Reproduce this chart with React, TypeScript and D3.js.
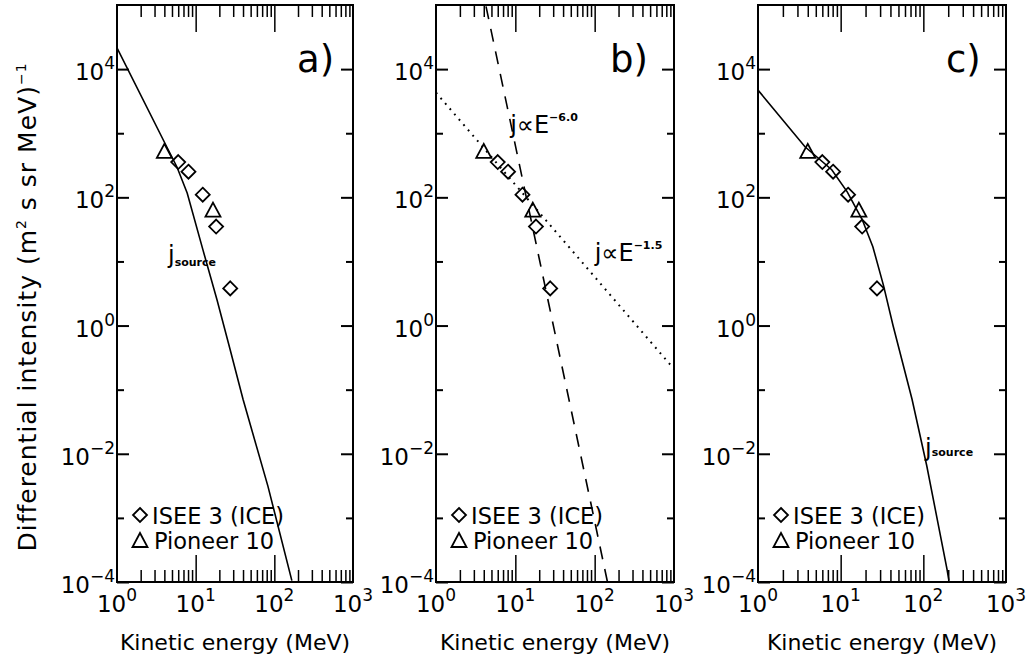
import React, { useEffect, useRef } from "react";
import * as d3 from "d3";

// ---------- data ----------
const isee3E = [6.0, 8.1, 12.3, 18.2, 27.5];
const isee3J = [355, 251, 110, 35, 3.8];
const pioneerE = [4.0, 16.6];
const pioneerJ = [513, 62];

// model curve "j_source" panel a
const sourceAE = [1, 4.3, 5.8, 7.8, 12.4, 18.7, 27.3, 40, 83, 167];
const sourceAJ = [21400, 610, 295, 117, 15, 2.5, 0.43, 0.071, 0.0031, 1.05e-4];
// model curve "j_source" panel c
const sourceCE = [1, 3.7, 7.8, 12, 18.2, 24.5, 33, 43, 73, 110, 193, 204];
const sourceCJ = [4700, 615, 270, 122, 45, 17, 4.2, 1.0, 0.071, 0.0065, 1.6e-4, 1.05e-4];
// power laws, panel b
const steepE = [4.27, 145];
const steepJ = [9.5e4, 1.0e-4];
const flatE = [1, 1000];
const flatJ = [4300, 0.21];

const xTickDecades = [1, 10, 100, 1000];
const xTickExps = ["0", "1", "2", "3"];
const yLabelExps = [4, 2, 0, -2, -4];
const yDecades = [-4, -3, -2, -1, 0, 1, 2, 3, 4];

const FONT = "'DejaVu Sans', sans-serif";
const TOP = 5;
const BOTTOM = 582;

const panels = [
  { id: "a", x0: 117, x1: 353, label: "a)", labelX: 297 },
  { id: "b", x0: 436, x1: 674, label: "b)", labelX: 610 },
  { id: "c", x0: 758, x1: 1006, label: "c)", labelX: 946 },
];

const zip = (a: number[], b: number[]) => a.map((v, i) => [v, b[i]] as [number, number]);

const scalesFor = (p: (typeof panels)[number]) => ({
  x: d3.scaleLog().domain([1, 1000]).range([p.x0, p.x1]),
  y: d3.scaleLog().domain([1e-4, 1e5]).range([BOTTOM, TOP]),
});

function Diamond({ x, y }: { x: number; y: number }) {
  return <path d={`M${x},${y - 7}L${x + 7},${y}L${x},${y + 7}L${x - 7},${y}Z`} fill="none" stroke="#000" strokeWidth={1.8} />;
}
function Triangle({ x, y }: { x: number; y: number }) {
  return <path d={`M${x},${y - 8}L${x + 7.5},${y + 6}L${x - 7.5},${y + 6}Z`} fill="none" stroke="#000" strokeWidth={1.8} />;
}

function Panel({ p }: { p: (typeof panels)[number] }) {
  const { x, y } = scalesFor(p);
  const curveGen = d3
    .line<[number, number]>()
    .x((d) => x(d[0]))
    .y((d) => y(d[1]));
  const cx = (p.x0 + p.x1) / 2;
  return (
    <g>
      <rect x={p.x0} y={TOP} width={p.x1 - p.x0} height={BOTTOM - TOP} fill="none" stroke="#000" strokeWidth={2} />
      {yLabelExps.map((e) => (
        <text key={"ylab" + e} x={p.x0 - 2} y={y(Math.pow(10, e)) + 11} textAnchor="end" fontSize={23} fontFamily={FONT}>
          10
          <tspan dy={-11} fontSize={17}>
            {e < 0 ? `\u2212${-e}` : `${e}`}
          </tspan>
        </text>
      ))}
      {xTickDecades.map((v, i) => (
        <text key={"xlab" + v} x={x(v)} y={612} textAnchor="middle" fontSize={23} fontFamily={FONT}>
          10
          <tspan dy={-11} fontSize={17}>
            {xTickExps[i]}
          </tspan>
        </text>
      ))}
      <text x={cx} y={650} textAnchor="middle" fontSize={22} fontFamily={FONT}>
        Kinetic energy (MeV)
      </text>
      <text x={p.labelX} y={72} fontSize={37} fontFamily={FONT}>
        {p.label}
      </text>
      {p.id === "a" && <path d={curveGen(zip(sourceAE, sourceAJ)) || ""} fill="none" stroke="#000" strokeWidth={1.6} />}
      {p.id === "c" && <path d={curveGen(zip(sourceCE, sourceCJ)) || ""} fill="none" stroke="#000" strokeWidth={1.6} />}
      {p.id === "b" && (
        <>
          <path d={curveGen(zip(steepE, steepJ)) || ""} fill="none" stroke="#000" strokeWidth={1.6} strokeDasharray="13 10" />
          <path d={curveGen(zip(flatE, flatJ)) || ""} fill="none" stroke="#000" strokeWidth={2} strokeDasharray="1.8 5.2" />
        </>
      )}
      {isee3E.map((e, i) => (
        <Diamond key={"d" + i} x={x(e)} y={y(isee3J[i])} />
      ))}
      {pioneerE.map((e, i) => (
        <Triangle key={"t" + i} x={x(e)} y={y(pioneerJ[i])} />
      ))}
      {p.id === "a" && (
        <text x={x(4.45)} y={y(9.6)} fontSize={24} fontFamily={FONT}>
          j
          <tspan fontSize={11} fontWeight="bold" dy={3}>
            source
          </tspan>
        </text>
      )}
      {p.id === "c" && (
        <text x={x(105)} y={y(0.0094)} fontSize={24} fontFamily={FONT}>
          j
          <tspan fontSize={11} fontWeight="bold">
            source
          </tspan>
        </text>
      )}
      {p.id === "b" && (
        <>
          <text x={x(8.6)} y={y(1020)} fontSize={24} fontFamily={FONT}>
            j∝E
            <tspan fontSize={11} fontWeight="bold" dy={-12}>
              −6.0
            </tspan>
          </text>
          <text x={x(100)} y={y(10)} fontSize={24} fontFamily={FONT}>
            j∝E
            <tspan fontSize={11} fontWeight="bold" dy={-12}>
              −1.5
            </tspan>
          </text>
        </>
      )}
      <Diamond x={p.x0 + 23} y={515} />
      <text x={p.x0 + 35} y={524} fontSize={22.5} fontFamily={FONT}>
        ISEE 3 (ICE)
      </text>
      <Triangle x={p.x0 + 23} y={541} />
      <text x={p.x0 + 37} y={549} fontSize={22.5} fontFamily={FONT}>
        Pioneer 10
      </text>
    </g>
  );
}

export default function App() {
  const tickRef = useRef<SVGGElement | null>(null);
  useEffect(() => {
    if (!tickRef.current) return;
    const root = d3.select(tickRef.current);
    root.selectAll("*").remove();
    panels.forEach((p) => {
      const { x, y } = scalesFor(p);
      const g = root.append("g");
      const isMajor = (v: number) => Math.abs(Math.log10(v) - Math.round(Math.log10(v))) < 1e-9;
      // bottom and top x ticks, drawn with d3 axes (inward)
      const bottomMajor = d3.axisTop(x).tickValues(x.ticks().filter((v) => isMajor(v) && v > 1 && v < 1000)).tickSize(27).tickFormat(() => "");
      const bottomMinor = d3.axisTop(x).tickValues(x.ticks().filter((v) => !isMajor(v))).tickSize(12).tickFormat(() => "");
      const topMajor = d3.axisBottom(x).tickValues(x.ticks().filter((v) => isMajor(v) && v > 1 && v < 1000)).tickSize(27).tickFormat(() => "");
      const topMinor = d3.axisBottom(x).tickValues(x.ticks().filter((v) => !isMajor(v))).tickSize(12).tickFormat(() => "");
      const leftMajor = d3.axisRight(y).tickValues(yDecades.filter((e) => e % 2 === 0).map((e) => Math.pow(10, e))).tickSize(12).tickFormat(() => "");
      const leftMinor = d3.axisRight(y).tickValues(yDecades.filter((e) => e % 2 !== 0).map((e) => Math.pow(10, e))).tickSize(7).tickFormat(() => "");
      const rightMajor = d3.axisLeft(y).tickValues(yDecades.filter((e) => e % 2 === 0).map((e) => Math.pow(10, e))).tickSize(12).tickFormat(() => "");
      const rightMinor = d3.axisLeft(y).tickValues(yDecades.filter((e) => e % 2 !== 0).map((e) => Math.pow(10, e))).tickSize(7).tickFormat(() => "");
      const add = (ax: any, tx: number, ty: number, w: number) => {
        const a = g.append("g").attr("transform", `translate(${tx},${ty})`).call(ax);
        a.select(".domain").remove();
        a.selectAll("line").attr("stroke", "#000").attr("stroke-width", w);
      };
      add(bottomMajor, 0, BOTTOM, 1.5);
      add(bottomMinor, 0, BOTTOM, 1.5);
      add(topMajor, 0, TOP, 1.5);
      add(topMinor, 0, TOP, 1.5);
      add(leftMajor, p.x0, 0, 2);
      add(leftMinor, p.x0, 0, 2);
      add(rightMajor, p.x1, 0, 2);
      add(rightMinor, p.x1, 0, 2);
    });
  }, []);
  return (
    <svg width={1034} height={665} style={{ position: "absolute", left: 0, top: 0, background: "#fff" }}>
      <text transform="translate(36,307) rotate(-90)" textAnchor="middle" fontSize={25} letterSpacing={1} fontFamily={FONT}>
        Differential intensity (m
        <tspan dy={-10} fontSize={14}>
          2
        </tspan>
        <tspan dy={10}> s sr MeV)</tspan>
        <tspan dy={-10} fontSize={14}>
          −1
        </tspan>
      </text>
      {panels.map((p) => (
        <Panel key={p.id} p={p} />
      ))}
      <g ref={tickRef} />
    </svg>
  );
}
